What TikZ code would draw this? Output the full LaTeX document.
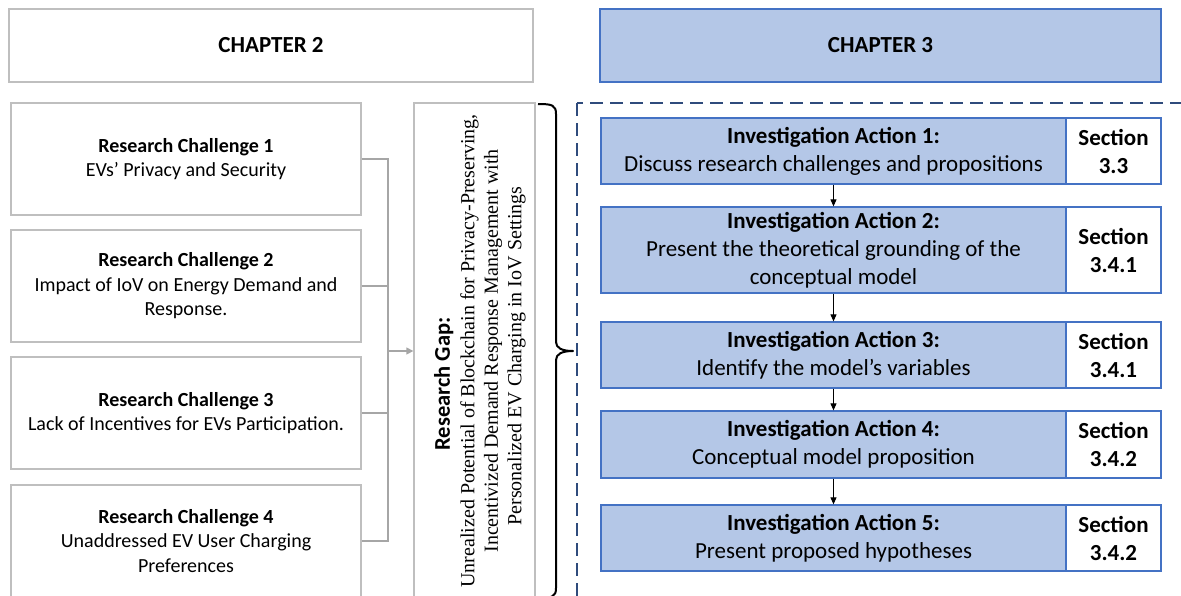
\documentclass[tikz,border=0pt]{standalone}
\usepackage{fontspec}
\setmainfont{Carlito}
\newfontfamily\calfont{Carlito}
\newfontfamily\tnr{Liberation Serif}
\usetikzlibrary{arrows.meta}
\definecolor{boxgray}{HTML}{BFBFBF}
\definecolor{linegray}{HTML}{A6A6A6}
\definecolor{lightblue}{HTML}{B4C7E7}
\definecolor{midblue}{HTML}{4472C4}
\definecolor{navy}{HTML}{2F4B7C}
\tikzset{
  graybox/.style={draw=boxgray, line width=1.3pt, fill=white, inner sep=0pt},
  bluebox/.style={draw=midblue, line width=1.3pt, fill=lightblue, inner sep=0pt},
  secbox/.style={draw=midblue, line width=1.3pt, fill=white, inner sep=0pt,
    minimum width=95, align=center, font=\bfseries\fontsize{23}{28}\selectfont},
  chapfont/.style={font=\bfseries\fontsize{23}{28}\selectfont},
  rcbox/.style={graybox, minimum width=350, minimum height=112, align=center,
    font=\fontsize{20}{24.5}\selectfont},
  actbox/.style={bluebox, minimum width=465, align=center,
    font=\fontsize{23}{28}\selectfont},
  conn/.style={draw=linegray, line width=1.3pt},
  grayarrow/.style={conn, -{Triangle[length=7pt,width=7pt]}, color=linegray},
  actarrow/.style={draw=black, line width=1pt, -{Triangle[length=7pt,width=6pt]}},
  bracepath/.style={draw=black, line width=2pt, line join=round},
  dashbox/.style={draw=navy, line width=2pt, dash pattern=on 13pt off 7pt}
}
\begin{document}
\begin{tikzpicture}[x=1pt,y=-1pt]
\useasboundingbox (0,0) rectangle (1181,595);
\clip (0,0) rectangle (1181,595);

% chapter headers
\node[graybox, chapfont, minimum width=524, minimum height=73] (ch2) at (271,45.5) {CHAPTER 2};
\node[bluebox, chapfont, minimum width=561, minimum height=73] (ch3) at (880.5,45.5) {CHAPTER 3};

% research challenges
\node[rcbox] (rc1) at (186,159) {\textbf{Research Challenge 1}\\EVs{\char"0027} Privacy and Security};
\node[rcbox] (rc2) at (186,286) {\textbf{Research Challenge 2}\\Impact of IoV on Energy Demand and\\Response.};
\node[rcbox] (rc3) at (186,413) {\textbf{Research Challenge 3}\\Lack of Incentives for EVs Participation.};
\node[rcbox] (rc4) at (186,541) {\textbf{Research Challenge 4}\\Unaddressed EV User Charging\\Preferences};

% research gap
\node[graybox, minimum width=121, minimum height=496] (gap) at (474.5,351) {};
\node[rotate=90, align=center, inner sep=0pt, font=\tnr\fontsize{20}{23.5}\selectfont] (gaptext) at (480,351)
  {{\calfont\bfseries\fontsize{22.5}{26}\selectfont Research Gap:}\hspace*{66pt}\\[1pt]
   Unrealized Potential of Blockchain for Privacy-Preserving,\\
   Incentivized Demand Response Management with\hspace*{20pt}\\
   Personalized EV Charging in IoV Settings\hspace*{10pt}};

% challenge bus into the gap
\coordinate (bus) at (388,541);
\draw[conn] (rc1.east) -| (bus) -- (rc4.east);
\draw[conn] (rc2.east) -- (rc2.east -| bus);
\draw[conn] (rc3.east) -- (rc3.east -| bus);
\draw[grayarrow] (gap.west -| bus) -- (gap.west);

% brace
\draw[bracepath] (538,104) .. controls (552,104) and (556,105) .. (556,114)
  -- (556,342) .. controls (556,348) and (562,351) .. (573,351)
  .. controls (562,351) and (556,354) .. (556,360)
  -- (556,588) .. controls (556,597) and (552,598) .. (538,598);

% dashed frame of chapter 3
\draw[dashbox] (577,103) rectangle (1183,600);

% investigation actions
\node[actbox, minimum height=66] (a1) at (833.5,151) {\textbf{Investigation Action 1:}\\Discuss research challenges and propositions};
\node[secbox, minimum height=66] (s1) at (1113.5,151) {Section\\3.3};
\node[actbox, minimum height=86] (a2) at (833.5,250) {\textbf{Investigation Action 2:}\\Present the theoretical grounding of the\\conceptual model};
\node[secbox, minimum height=86] (s2) at (1113.5,250) {Section\\3.4.1};
\node[actbox, minimum height=66] (a3) at (833.5,355) {\textbf{Investigation Action 3:}\\Identify the model’s variables};
\node[secbox, minimum height=66] (s3) at (1113.5,355) {Section\\3.4.1};
\node[actbox, minimum height=67] (a4) at (833.5,444.5) {\textbf{Investigation Action 4:}\\Conceptual model proposition};
\node[secbox, minimum height=67] (s4) at (1113.5,444.5) {Section\\3.4.2};
\node[actbox, minimum height=66] (a5) at (833.5,538) {\textbf{Investigation Action 5:}\\Present proposed hypotheses};
\node[secbox, minimum height=66] (s5) at (1113.5,538) {Section\\3.4.2};

\draw[actarrow] (a1.south) -- (a2.north);
\draw[actarrow] (a2.south) -- (a3.north);
\draw[actarrow] (a3.south) -- (a4.north);
\draw[actarrow] (a4.south) -- (a5.north);
\end{tikzpicture}
\end{document}
